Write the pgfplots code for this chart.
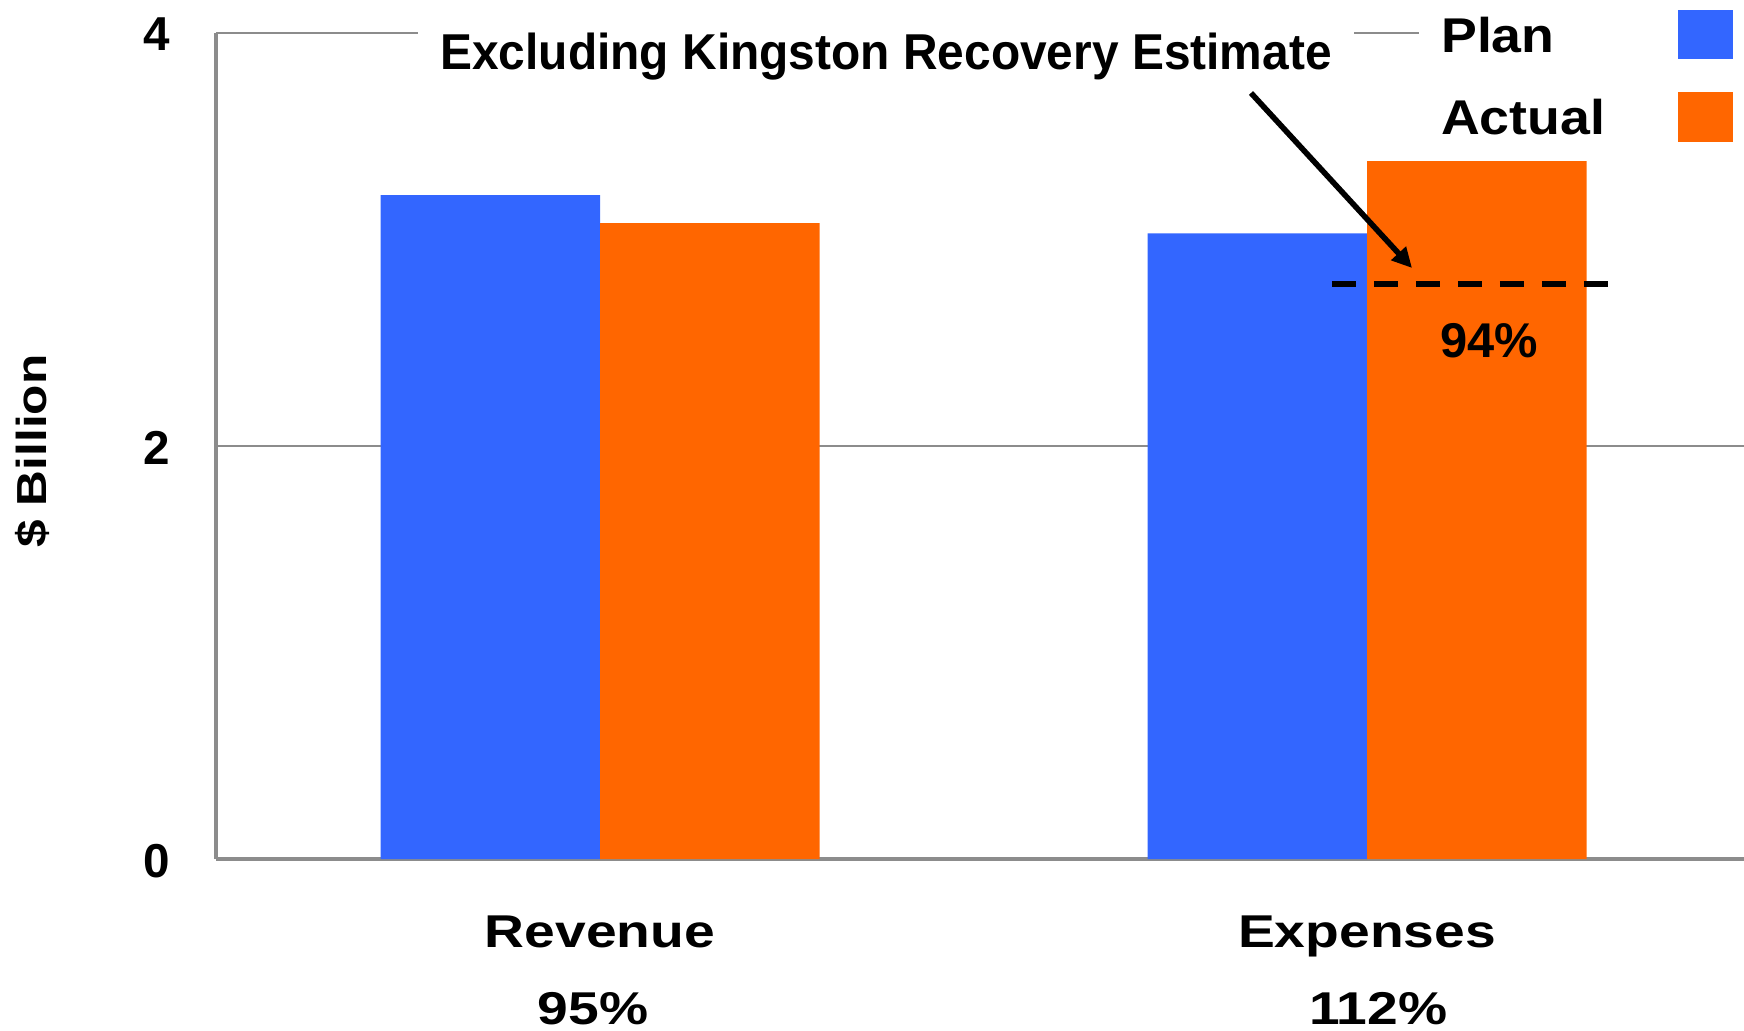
\documentclass[border=0pt]{standalone}
\usepackage{fontspec}
\setmainfont{Liberation Sans}
\usepackage{graphicx}
\usepackage{pgfplots}
\pgfplotsset{compat=1.18}
\usetikzlibrary{arrows.meta}
\definecolor{planblue}{HTML}{3366FF}
\definecolor{actorange}{HTML}{FF6600}
\definecolor{axgray}{HTML}{8C8C8C}
\newcommand{\sx}[2]{\scalebox{#1}[1]{#2}}
\pgfplotsset{legbox/.style={legend image code/.code={\fill[##1] (0pt,-6.2pt) rectangle (13.75pt,6.2pt);}}}

\begin{document}
\begin{tikzpicture}
% 1 px of the reference = 0.25pt; origin = lower left corner of the axis
\useasboundingbox (-54pt,-42.75pt) rectangle (382pt,214.75pt);
\begin{axis}[
    at={(0,0)}, anchor=south west,
    scale only axis, width=382pt, height=206.5pt,
    ybar, bar width=54.875pt,
    xmin=-0.5007, xmax=1.4915, ymin=0, ymax=4,
    enlarge x limits=false, enlarge y limits=false,
    axis lines*=left,
    axis line style={axgray, line width=1pt},
    xtick={0,1}, ytick={0,2,4},
    xticklabels={{\sx{1.2}{Revenue}\\[5.45pt]\hspace*{-3.4pt}\sx{1.2}{95\%}},
                 {\sx{1.2}{Expenses}\\[5.45pt]\hspace*{5.6pt}\sx{1.2}{112\%}}},
    major tick length=0pt,
    ymajorgrids, major grid style={axgray, line width=0.5pt},
    xticklabel style={align=center, anchor=north, inner sep=0pt, yshift=-14pt,
      font=\bfseries\fontsize{11.5}{13.8}\selectfont},
    yticklabel style={anchor=center, inner sep=0pt, xshift=-14.75pt, yshift=-0.4pt,
      font=\bfseries\fontsize{11.9}{13}\selectfont},
    /pgf/number format/assume math mode=true,
    ylabel={\sx{1.18}{\$ Billion}},
    ylabel style={at={(axis description cs:-0.1201,0.494)}, anchor=center, inner sep=0pt,
      font=\bfseries\fontsize{10.5}{12}\selectfont},
    title={\sx{0.95}{Excluding Kingston Recovery Estimate}},
    every axis title shift=0pt,
    title style={at={(axis description cs:0.4385,0.9564)}, anchor=base, fill=white,
      inner xsep=5.5pt, inner ysep=1pt, font=\bfseries\fontsize{12.6}{14}\selectfont},
    legend plot pos=right,
    legend cell align=left,
    legend style={at={(axis description cs:1.0079,1.029)}, anchor=north east,
      draw=none, fill=white, inner xsep=5.5pt, inner ysep=0pt,
      column sep=18.25pt, row sep=8.25pt,
      nodes={inner sep=0pt, text depth=0pt},
      font=\bfseries\fontsize{12.2}{14}\selectfont},
]
\addplot[fill=planblue, draw=none, bar shift=-27.4375pt, legbox]
  coordinates {(0,3.215) (1,3.03)};
\addplot[fill=actorange, draw=none, bar shift=27.4375pt, legbox]
  coordinates {(0,3.08) (1,3.38)};
% expenses excluding the Kingston recovery estimate
\addplot[sharp plot, forget plot, black, line width=1.4pt, dash pattern=on 6.1pt off 4.4pt]
  coordinates {(0.954,2.785) (1.314,2.785)};
\legend{\sx{1.1}{Plan},\sx{1.1}{Actual}}
\end{axis}
\begin{scope}[shift={(-54pt,214.75pt)}, x=0.25pt, y=-0.25pt]
  \draw[line width=1.4pt, -{Triangle[length=5pt,width=4.8pt]}] (1251,93) -- (1412,268);
  \node[anchor=base, inner sep=0pt, font=\bfseries\fontsize{12.2}{14}\selectfont] at (1489,357) {94\%};
\end{scope}
\end{tikzpicture}
\end{document}
